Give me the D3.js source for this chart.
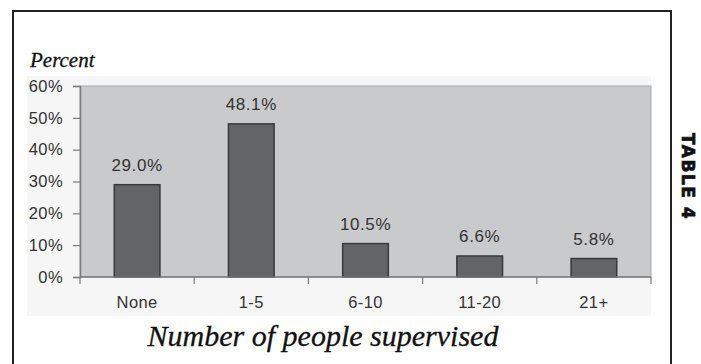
<!DOCTYPE html>
<html>
<head>
<meta charset="utf-8">
<script src="https://cdn.jsdelivr.net/npm/d3@7"></script>
<style>
  html, body { margin: 0; padding: 0; background: #ffffff; }
  svg { display: block; }
</style>
</head>
<body>
<svg id="chart" width="701" height="364"></svg>
<script>
// Share of respondents by number of people supervised
const categories = ["None", "1-5", "6-10", "11-20", "21+"];
const percentValues = [29.0, 48.1, 10.5, 6.6, 5.8];
const yTickValues = [0, 10, 20, 30, 40, 50, 60];

const svg = d3.select("#chart");

const plot = { left: 80, right: 651, top: 86, bottom: 277 };
const sansFont = "Liberation Sans, Arial, sans-serif";
const serifFont = "Liberation Serif, Times New Roman, serif";

const x = d3.scaleBand()
  .domain(categories)
  .range([plot.left, plot.right])
  .paddingInner(0.6)
  .paddingOuter(0.3);

const y = d3.scaleLinear()
  .domain([0, 60])
  .range([plot.bottom, plot.top]);

// Page frame (open at the bottom)
svg.append("path")
  .attr("d", "M13,364 V11 H671 V364")
  .attr("fill", "none")
  .attr("stroke", "#232323")
  .attr("stroke-width", 2);

// Faint backdrop behind the chart graphic
svg.append("rect")
  .attr("x", 27).attr("y", 76)
  .attr("width", plot.right - 27).attr("height", 240)
  .attr("fill", "#f6f6f6");

// Plot area
svg.append("rect")
  .attr("x", plot.left).attr("y", plot.top)
  .attr("width", plot.right - plot.left).attr("height", plot.bottom - plot.top)
  .attr("fill", "#c9cacc")
  .attr("stroke", "#a8a9ab")
  .attr("stroke-width", 1);

// Bars
svg.append("g")
  .selectAll("rect")
  .data(percentValues)
  .join("rect")
  .attr("x", (d, i) => x(categories[i]))
  .attr("y", d => y(d))
  .attr("width", x.bandwidth())
  .attr("height", d => y(0) - y(d))
  .attr("fill", "#636466")
  .attr("stroke", "#38393b")
  .attr("stroke-width", 1.5);

// Value labels
svg.append("g")
  .selectAll("text")
  .data(percentValues)
  .join("text")
  .attr("x", (d, i) => x(categories[i]) + x.bandwidth() / 2)
  .attr("y", d => y(d) - 14)
  .attr("text-anchor", "middle")
  .attr("font-family", sansFont)
  .attr("font-size", 17)
  .attr("letter-spacing", 0.6)
  .attr("fill", "#333")
  .text(d => d.toFixed(1) + "%");

// Y axis
const yAxis = svg.append("g")
  .attr("transform", `translate(${plot.left},0)`)
  .call(d3.axisLeft(y).tickValues(yTickValues).tickSize(7).tickPadding(10)
    .tickFormat(d => d + "%"));
yAxis.select(".domain").attr("stroke", "#7a7a7a").attr("stroke-width", 1.5);
yAxis.selectAll(".tick line").attr("stroke", "#7a7a7a").attr("stroke-width", 1.2);
yAxis.selectAll(".tick text")
  .attr("font-family", sansFont)
  .attr("font-size", 16.5)
  .attr("letter-spacing", 0.4)
  .attr("fill", "#333");

// X axis: ticks sit on the category boundaries
const xAxis = svg.append("g")
  .attr("transform", `translate(0,${plot.bottom})`);
xAxis.append("line")
  .attr("x1", plot.left).attr("x2", plot.right)
  .attr("stroke", "#7a7a7a").attr("stroke-width", 1.5);
const boundaries = d3.range(categories.length + 1)
  .map(i => plot.left + i * (plot.right - plot.left) / categories.length);
xAxis.selectAll("line.tick")
  .data(boundaries)
  .join("line")
  .attr("class", "tick")
  .attr("x1", d => d).attr("x2", d => d)
  .attr("y1", 0).attr("y2", 7)
  .attr("stroke", "#7a7a7a").attr("stroke-width", 1.2);
xAxis.selectAll("text")
  .data(categories)
  .join("text")
  .attr("x", d => x(d) + x.bandwidth() / 2)
  .attr("y", 31)
  .attr("text-anchor", "middle")
  .attr("font-family", sansFont)
  .attr("font-size", 16.5)
  .attr("letter-spacing", 0.4)
  .attr("fill", "#333")
  .text(d => d);

// Axis titles
svg.append("text")
  .attr("x", 30).attr("y", 67)
  .attr("font-family", serifFont)
  .attr("font-style", "italic")
  .attr("font-size", 21)
  .attr("fill", "#111")
  .attr("stroke", "#111")
  .attr("stroke-width", 0.3)
  .text("Percent");

svg.append("text")
  .attr("x", 323).attr("y", 346)
  .attr("text-anchor", "middle")
  .attr("font-family", serifFont)
  .attr("font-style", "italic")
  .attr("font-size", 30)
  .attr("fill", "#111")
  .attr("stroke", "#111")
  .attr("stroke-width", 0.3)
  .text("Number of people supervised");

// Side tab label
svg.append("text")
  .attr("transform", "translate(682,133) rotate(90)")
  .attr("font-family", "DejaVu Sans, sans-serif")
  .attr("font-weight", "bold")
  .attr("font-size", 17)
  .attr("letter-spacing", 1.5)
  .attr("fill", "#111")
  .attr("stroke", "#111")
  .attr("stroke-width", 0.7)
  .text("TABLE 4");
</script>
</body>
</html>
